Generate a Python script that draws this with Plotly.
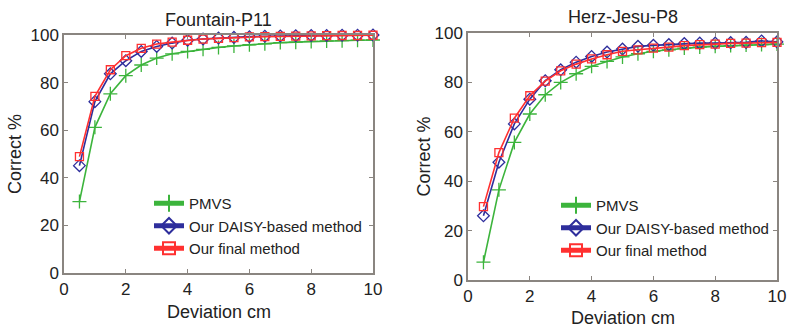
import plotly.graph_objects as go

x = [0.5, 1.0, 1.5, 2.0, 2.5, 3.0, 3.5, 4.0, 4.5, 5.0, 5.5, 6.0, 6.5, 7.0, 7.5, 8.0, 8.5, 9.0, 9.5, 10.0]

series_names = ["PMVS", "Our DAISY-based method", "Our final method"]

fountain_pmvs = [30.0, 61.2, 75.3, 82.9, 87.4, 90.3, 92.1, 93.1, 94.0, 94.8, 95.4, 95.9, 96.3, 96.8, 97.0, 97.3, 97.5, 97.6, 97.8, 97.9]
fountain_daisy = [45.1, 72.0, 83.7, 89.2, 93.1, 95.2, 96.6, 97.8, 98.3, 98.7, 99.0, 99.3, 99.5, 99.6, 99.7, 99.8, 99.8, 99.9, 99.9, 100.0]
fountain_final = [48.9, 74.2, 85.4, 91.3, 94.4, 96.2, 97.0, 97.8, 98.3, 98.6, 98.9, 99.2, 99.3, 99.4, 99.5, 99.6, 99.7, 99.8, 99.8, 99.9]

herz_pmvs = [7.2, 36.5, 55.7, 67.2, 75.0, 80.0, 83.5, 86.5, 88.5, 90.3, 91.6, 92.6, 93.2, 93.9, 94.3, 94.6, 94.9, 95.1, 95.3, 95.5]
herz_daisy = [26.0, 47.7, 63.2, 73.2, 80.7, 85.1, 88.2, 90.5, 92.3, 93.5, 94.6, 95.0, 95.3, 95.7, 95.9, 95.9, 96.1, 96.2, 96.8, 96.4]
herz_final = [29.7, 51.6, 65.5, 74.6, 80.5, 84.7, 87.4, 89.5, 91.2, 92.6, 93.2, 93.9, 94.3, 94.9, 95.3, 95.5, 95.8, 95.9, 96.1, 96.2]

titles = ["Fountain-P11", "Herz-Jesu-P8"]
x_title = "Deviation cm"
y_title = "Correct %"
x_ticks = [0, 2, 4, 6, 8, 10]
y_ticks = [0, 20, 40, 60, 80, 100]

colors = ["#3cb43c", "#2e2e9c", "#ff3030"]
symbols = ["cross-thin-open", "diamond-open", "square-open"]
sizes = [10, 9, 8]

W, H = 787, 329
FONT = "Liberation Sans, Arial, sans-serif"
AX = "#8a8580"
TXT = "#222222"

fig = go.Figure()

datasets = [
    (fountain_pmvs, fountain_daisy, fountain_final),
    (herz_pmvs, herz_daisy, herz_final),
]
for p, data in enumerate(datasets):
    xa = "x" if p == 0 else "x2"
    ya = "y" if p == 0 else "y2"
    lg = "legend" if p == 0 else "legend2"
    for i, ys in enumerate(data):
        fig.add_trace(go.Scatter(
            x=x, y=ys, mode="lines+markers", name=series_names[i],
            xaxis=xa, yaxis=ya, legend=lg, cliponaxis=False,
            line=dict(color=colors[i], width=1.6),
            marker=dict(symbol=symbols[i], size=sizes[i], color=colors[i],
                        line=dict(color=colors[i], width=1.3)),
        ))

# plot areas in pixels: (left, right, top, bottom)
boxes = [(64, 373, 35, 273), (468, 777, 33, 280)]
# axis-title / title centres in pixels
xtitle_y = [312, 318]
ytitle_x = [15, 423]
title_y = [20, 17]

def dom(b):
    l, r, t, bt = b
    return [l / W, r / W], [1 - bt / H, 1 - t / H]

axis_common = dict(
    showgrid=False, zeroline=False, showline=True, linecolor=AX, linewidth=1.5,
    mirror="ticks", ticks="inside", ticklen=4, tickcolor=AX, tickwidth=1,
    tickfont=dict(family=FONT, size=17, color=TXT), automargin=False,
)

for p, b in enumerate(boxes):
    xd, yd = dom(b)
    sx = "" if p == 0 else "2"
    fig.update_layout(**{
        f"xaxis{sx}": dict(domain=xd, range=[0, 10], tickvals=x_ticks, anchor=f"y{sx}", **axis_common),
        f"yaxis{sx}": dict(domain=yd, range=[0, 100], tickvals=y_ticks, anchor=f"x{sx}", **axis_common),
    })
    cx = (b[0] + b[1]) / 2
    cy = (b[2] + b[3]) / 2
    fig.add_annotation(text=titles[p], x=cx / W, y=1 - title_y[p] / H, xref="paper", yref="paper",
                       yanchor="middle", xanchor="center", showarrow=False,
                       font=dict(family=FONT, size=18, color=TXT))
    fig.add_annotation(text=x_title, x=cx / W, y=1 - xtitle_y[p] / H, xref="paper", yref="paper",
                       yanchor="middle", xanchor="center", showarrow=False,
                       font=dict(family=FONT, size=18, color=TXT))
    fig.add_annotation(text=y_title, x=ytitle_x[p] / W, y=1 - cy / H, xref="paper", yref="paper",
                       yanchor="middle", xanchor="center", showarrow=False, textangle=-90,
                       font=dict(family=FONT, size=18, color=TXT))

fig.update_layout(
    width=W, height=H, margin=dict(l=0, r=0, t=0, b=0),
    paper_bgcolor="white", plot_bgcolor="white", showlegend=True,
    legend=dict(x=149 / W, y=1 - 187 / H, xanchor="left", yanchor="top",
                bgcolor="rgba(0,0,0,0)", font=dict(family=FONT, size=15, color=TXT),
                tracegroupgap=0, itemsizing="constant"),
    legend2=dict(x=556 / W, y=1 - 189 / H, xanchor="left", yanchor="top",
                 bgcolor="rgba(0,0,0,0)", font=dict(family=FONT, size=15, color=TXT),
                 tracegroupgap=0, itemsizing="constant"),
)

fig.write_html("out.html", config={"displayModeBar": False},
               post_script="document.body.style.margin='0';document.body.style.overflow='hidden';")
